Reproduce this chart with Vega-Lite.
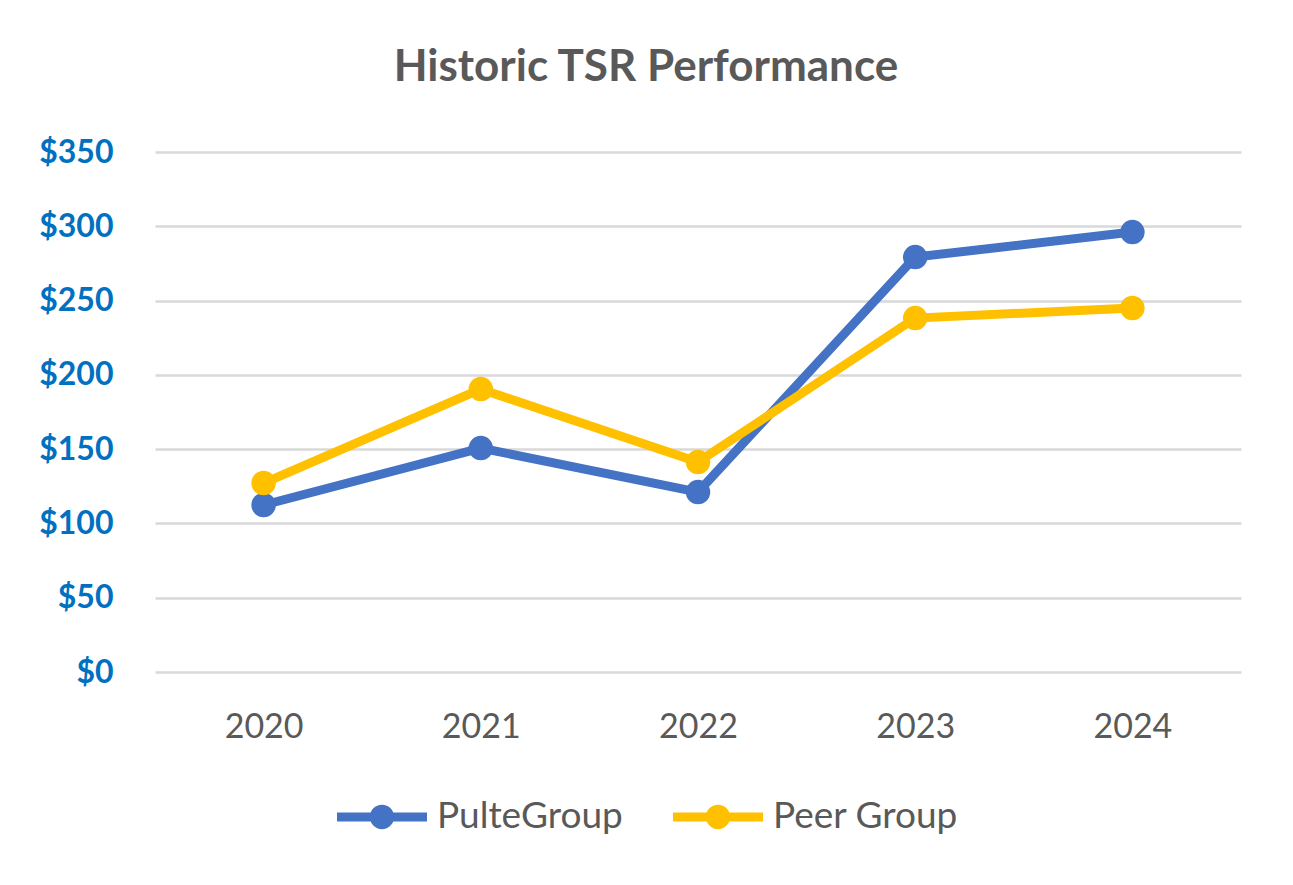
{
  "$schema": "https://vega.github.io/schema/vega-lite/v6.json",
  "autosize": "none",
  "width": 1086,
  "height": 520,
  "padding": {"left": 155, "top": 152, "right": 52, "bottom": 213},
  "background": "white",
  "title": {
    "text": "Historic TSR Performance",
    "font": "Lato",
    "fontSize": 44,
    "fontWeight": "bold",
    "color": "#595959",
    "anchor": "middle",
    "dx": -52,
    "offset": 46
  },
  "data": {
    "values": [
      {"year": "2020", "series": "PulteGroup", "value": 112.4},
      {"year": "2021", "series": "PulteGroup", "value": 150.7},
      {"year": "2022", "series": "PulteGroup", "value": 121.1},
      {"year": "2023", "series": "PulteGroup", "value": 279.3},
      {"year": "2024", "series": "PulteGroup", "value": 296.1},
      {"year": "2020", "series": "Peer Group", "value": 127.2},
      {"year": "2021", "series": "Peer Group", "value": 190.4},
      {"year": "2022", "series": "Peer Group", "value": 141.3},
      {"year": "2023", "series": "Peer Group", "value": 238.2},
      {"year": "2024", "series": "Peer Group", "value": 245.0}
    ]
  },
  "encoding": {
    "x": {
      "field": "year",
      "type": "ordinal",
      "scale": {"type": "point", "padding": 0.5},
      "axis": {
        "title": null,
        "labelAngle": 0,
        "labelFont": "Lato",
        "labelFontSize": 34,
        "labelColor": "#595959",
        "labelPadding": 38,
        "ticks": false,
        "domain": false,
        "grid": false
      }
    },
    "y": {
      "field": "value",
      "type": "quantitative",
      "scale": {"domain": [0, 350], "nice": false},
      "axis": {
        "title": null,
        "values": [0, 50, 100, 150, 200, 250, 300, 350],
        "format": "$,.0f",
        "labelFont": "Lato",
        "labelFontSize": 32,
        "labelFontWeight": "bold",
        "labelColor": "#0070C0",
        "labelPadding": 42,
        "ticks": false,
        "domain": false,
        "grid": true,
        "gridColor": "#D9D9D9",
        "gridWidth": 2.5
      }
    },
    "color": {
      "field": "series",
      "type": "nominal",
      "scale": {"domain": ["PulteGroup", "Peer Group"], "range": ["#4472C4", "#FFC000"]},
      "legend": {
        "title": null,
        "orient": "none",
        "direction": "horizontal",
        "legendX": 182,
        "legendY": 620,
        "symbolType": "M-1,-0.1 L1,-0.1 L1,0.1 L-1,0.1 Z M0.27,0 A0.27,0.27 0 1,1 -0.27,0 A0.27,0.27 0 1,1 0.27,0 Z",
        "symbolSize": 8100,
        "symbolStrokeWidth": 0,
        "labelFont": "Lato",
        "labelFontSize": 37,
        "labelLimit": 0,
        "labelColor": "#595959",
        "labelOffset": 10,
        "columnPadding": 50,
        "encode": {
          "symbols": {
            "update": {
              "fill": {"scale": "color", "field": "value"},
              "stroke": {"value": "transparent"},
              "strokeWidth": {"value": 0},
              "opacity": {"value": 1}
            }
          }
        }
      }
    },
    "order": {"field": "series", "sort": "descending"}
  },
  "layer": [
    {"mark": {"type": "line", "strokeWidth": 9}, "encoding": {"detail": {"field": "series"}}},
    {"mark": {"type": "point", "filled": true, "size": 600, "opacity": 1}}
  ],
  "config": {
    "view": {"stroke": null}
  }
}
